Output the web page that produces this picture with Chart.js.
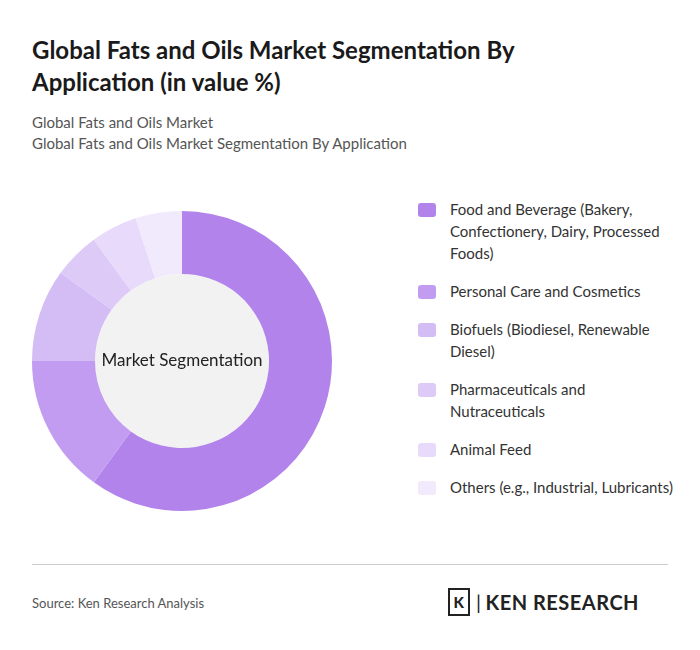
<!DOCTYPE html>
<html><head><meta charset="utf-8">
<script src="https://cdn.jsdelivr.net/npm/chart.js@4/dist/chart.umd.min.js"></script>
<style>
body{margin:0;width:700px;height:650px;background:#fff;font-family:Lato,"Open Sans",sans-serif;position:relative;overflow:hidden}
h1{position:absolute;left:32px;top:34px;margin:0;font-size:24px;line-height:32px;font-weight:700;color:#1a1a1a;width:545px}
.sub{position:absolute;left:32px;top:112px;font-size:15px;line-height:21px;color:#555}
#wrap{position:absolute;left:22px;top:201px;width:320px;height:320px}
#legend{position:absolute;left:418px;top:198px;width:255px}
.item{display:flex;margin-bottom:16px;font-size:15px;line-height:22px;color:#333}
.sw{width:18px;height:14px;border-radius:3px;margin:5px 14px 0 0;flex:none}
hr{position:absolute;left:32px;top:564px;width:636px;border:0;border-top:1px solid #ccc;margin:0}
.src{position:absolute;left:32px;top:595px;font-size:13px;color:#555}
.logo{position:absolute;left:448px;top:588px;font-size:20px;font-weight:700;color:#222;letter-spacing:0.5px;display:flex;align-items:center}
.logo b{display:inline-block;width:18px;height:24px;border:2px solid #222;margin-right:6px;font-size:15px;text-align:center;line-height:24px}
</style></head><body>
<h1>Global Fats and Oils Market Segmentation By Application (in value %)</h1>
<div class="sub">Global Fats and Oils Market<br>Global Fats and Oils Market Segmentation By Application</div>
<div id="wrap"><canvas id="c"></canvas></div>
<div id="legend"></div>
<hr>
<div class="src">Source: Ken Research Analysis</div>
<div class="logo"><b>K</b><span style="font-weight:400;margin-right:4px">|</span>KEN RESEARCH</div>
<script>
const labels=["Food and Beverage (Bakery, Confectionery, Dairy, Processed Foods)","Personal Care and Cosmetics","Biofuels (Biodiesel, Renewable Diesel)","Pharmaceuticals and Nutraceuticals","Animal Feed","Others (e.g., Industrial, Lubricants)"];
const values=[60,15,10,5,5,5];
const colors=["#b383ec","#c29cf0","#d4bcf5","#ddcaf7","#e8dafa","#f1e9fc"];

let lg=document.getElementById("legend");
labels.forEach((l,i)=>{lg.innerHTML+='<div class="item"><div class="sw" style="background:'+colors[i]+'"></div><div>'+l+'</div></div>'});

const centre={id:"centre",beforeDraw(ch){
  const m=ch.getDatasetMeta(0).data[0];if(!m)return;
  const c=ch.ctx;c.save();
  c.beginPath();c.arc(m.x,m.y,m.innerRadius,0,Math.PI*2);c.fillStyle="#f2f2f2";c.fill();
  c.fillStyle="#222";c.font="17px Lato";c.textAlign="center";c.textBaseline="middle";
  c.fillText("Market Segmentation",m.x,m.y);c.restore();
}};
new Chart(document.getElementById("c"),{
  type:"doughnut",
  data:{labels:labels,datasets:[{data:values,backgroundColor:colors,borderWidth:0}]},
  options:{responsive:true,maintainAspectRatio:false,cutout:"58%",animation:false,
    layout:{padding:10},
    plugins:{legend:{display:false},tooltip:{enabled:false}}},
  plugins:[centre]
});
</script>
</body></html>
